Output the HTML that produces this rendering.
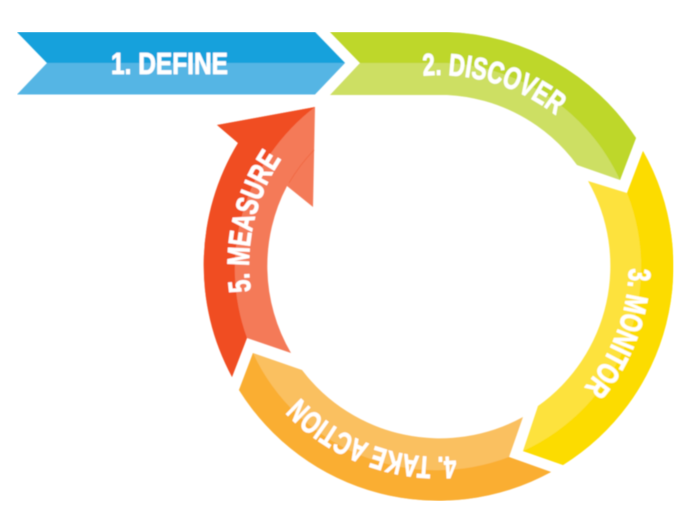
<!DOCTYPE html>
<html>
<head>
<meta charset="utf-8">
<style>
html,body{margin:0;padding:0;background:#fff;width:690px;height:527px;overflow:hidden}
svg{display:block}
text{font-family:"Liberation Sans Narrow","Liberation Sans",sans-serif;font-weight:bold;font-size:31px;fill:#fff;stroke:#fff;stroke-width:.8px;stroke-linejoin:round}
</style>
</head>
<body>
<svg width="690" height="527" viewBox="0 0 690 527" xmlns="http://www.w3.org/2000/svg">
<defs>
<path id="p2" d="M423.1,75.7 A190,190 0 0 1 556,115.3"/>
<path id="p3" d="M629,268.3 A190,190 0 0 1 583.7,388.1"/>
<path id="p4" d="M455.7,456.3 A192,192 0 0 1 299.7,397.2"/>
<path id="p5" d="M250.8,291.4 A190,190 0 0 1 281.5,158.8"/>
<filter id="soft" x="0" y="0" width="100%" height="100%"><feGaussianBlur stdDeviation="0.4"/></filter>
</defs>

<g filter="url(#soft)">
<!-- 1 Define -->
<path d="M17,32 L315,32 L345,63 L315,94.5 L17,94.5 L47,63 Z" fill="#54b5e4"/>
<path d="M17,32 L315,32 L345,63 L47,63 Z" fill="#18a1dc"/>

<!-- 2 Discover -->
<path d="M330,32 L447,32 A234,234 0 0 1 636,138 L620,180 L577,165 A171,171 0 0 0 447,95 L330,95 L360,63 Z" fill="#cddf63"/>
<path d="M330,32 L447,32 A234,234 0 0 1 636,138 L620,180 A202,202 0 0 0 447,63 L360,63 Z" fill="#bed72c"/>

<!-- 3 Monitor -->
<path d="M643,151 A234,234 0 0 1 563,465 L523,451 L538,406 A172,172 0 0 0 588,181 L627,193 Z" fill="#fde23e"/>
<path d="M643,151 A234,234 0 0 1 563,465 L523,451 A202,202 0 0 0 627,193 Z" fill="#fcdc04"/>

<!-- 4 Take action -->
<path d="M551,472 A235,235 0 0 1 239,390 L253,353 L302,370 A173,173 0 0 0 523,417 L509,457 Z" fill="#fac061"/>
<path d="M551,472 A235,235 0 0 1 239,390 L253,353 A203,203 0 0 0 509,457 Z" fill="#faae33"/>

<!-- 5 Measure -->
<path d="M315,107 L217,125 L238,143 A235,235 0 0 0 232,377 L247,338 L291,353 A172,172 0 0 1 287,186 L313,207 Z" fill="#f47a58"/>
<path d="M315,107 L217,125 L238,143 A235,235 0 0 0 232,377 L247,338 A203,203 0 0 1 315,107 Z" fill="#f04d22"/>
<path d="M314,150 A172,172 0 0 0 289,183" fill="none" stroke="#f26a45" stroke-width="1"/>

<!-- Labels -->
<text x="111" y="74" textLength="117" lengthAdjust="spacingAndGlyphs">1. DEFINE</text>
<text><textPath href="#p2" textLength="142" lengthAdjust="spacingAndGlyphs">2. DISCOVER</textPath></text>
<text><textPath href="#p3" textLength="130" lengthAdjust="spacingAndGlyphs">3. MONITOR</textPath></text>
<text><textPath href="#p4" textLength="172" lengthAdjust="spacingAndGlyphs">4. TAKE ACTION</textPath></text>
<text><textPath href="#p5" textLength="139" lengthAdjust="spacingAndGlyphs">5. MEASURE</textPath></text>
</g>
</svg>
</body>
</html>
